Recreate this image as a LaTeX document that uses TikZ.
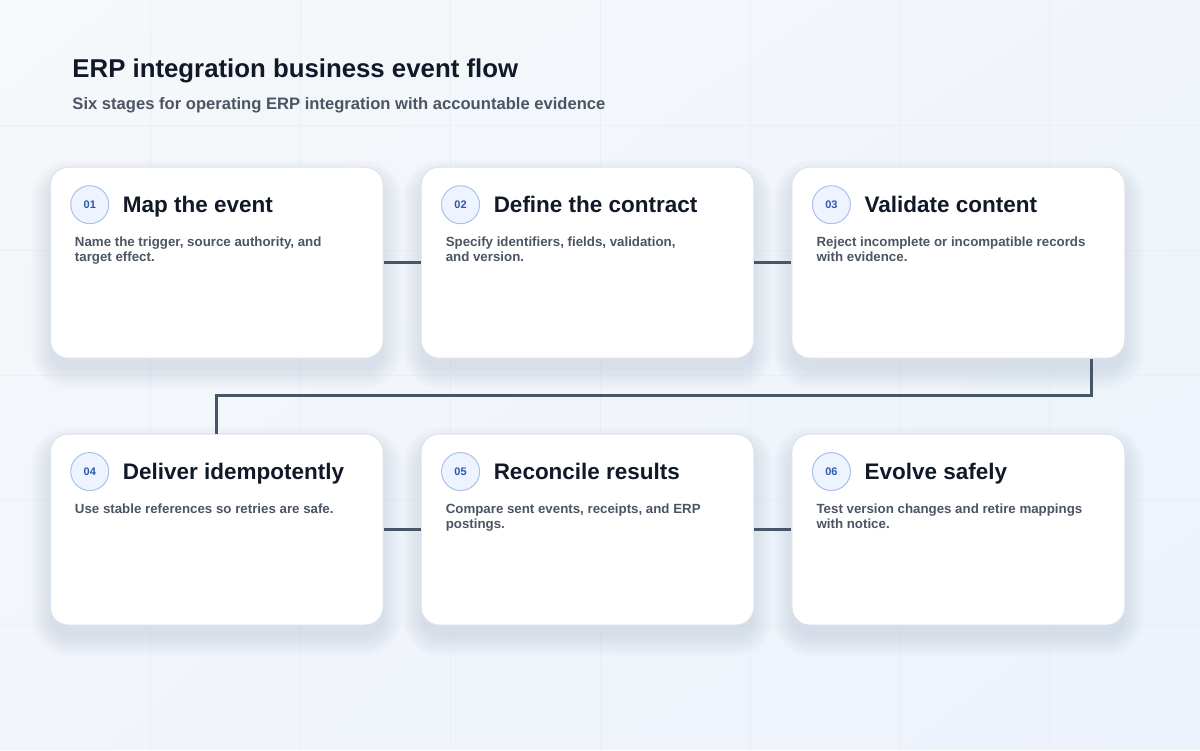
\documentclass[tikz,border=0pt]{standalone}
\usepackage{fontspec}
\setmainfont{Liberation Sans}
\usetikzlibrary{calc,shadings}
\pgfdeclarelayer{bglayer}
\pgfdeclarelayer{shadowlayer}
\pgfsetlayers{bglayer,shadowlayer,main}
\definecolor{bgul}{HTML}{F6F8FA}
\definecolor{bgur}{HTML}{F1F5FB}
\definecolor{bgll}{HTML}{F2F5FB}
\definecolor{bglr}{HTML}{ECF2FC}
\definecolor{gridc}{HTML}{E8EDF4}
\definecolor{titlec}{HTML}{111827}
\definecolor{subc}{HTML}{4B5563}
\definecolor{descc}{HTML}{4B5563}
\definecolor{borderc}{HTML}{DCE3EC}
\definecolor{circfill}{HTML}{EEF4FF}
\definecolor{circdraw}{HTML}{A9C1EA}
\definecolor{numc}{HTML}{2F58A8}
\definecolor{linkc}{HTML}{475569}
\definecolor{shadc}{HTML}{8393B0}
\tikzset{
  card/.style={draw=borderc, line width=1pt, fill=white, rounded corners=18pt,
    minimum width=333pt, minimum height=191pt, inner sep=0pt},
  numcirc/.style={circle, draw=circdraw, line width=1pt, fill=circfill, minimum size=38pt, inner sep=0pt,
    font=\fontsize{11}{13}\selectfont\bfseries, text=numc},
  cardtitle/.style={anchor=base west, inner sep=0pt, font=\fontsize{22.5}{27}\selectfont\bfseries, text=titlec},
  carddesc/.style={anchor=base west, inner sep=0pt, font=\fontsize{13.3}{15}\selectfont\bfseries, text=descc},
  link/.style={draw=linkc, line width=3.5pt},
}
\newcommand{\desclines}[1]{\begin{tabular}[t]{@{}l@{}}#1\end{tabular}}
\begin{document}
\begin{tikzpicture}[x=1pt,y=-1pt]
\begin{pgfonlayer}{bglayer}
\shade[upper left=bgul, upper right=bgur, lower left=bgll, lower right=bglr] (0,0) rectangle (1200,750);
\foreach \gx in {150,300,...,1050} \draw[gridc, line width=0.6pt, opacity=0.7] (\gx,0) -- (\gx,750);
\foreach \gy in {125,250,...,625} \draw[gridc, line width=0.6pt, opacity=0.7] (0,\gy) -- (1200,\gy);
\end{pgfonlayer}
\useasboundingbox (0,0) rectangle (1200,750);
\node[anchor=base west, inner sep=0pt, font=\fontsize{25.8}{30}\selectfont\bfseries, text=titlec] (title) at (72,77) {ERP integration business event flow};
\node[anchor=base west, inner sep=0pt, font=\fontsize{16.6}{19}\selectfont\bfseries, text=subc] (sub) at (72,109) {Six stages for operating ERP integration with accountable evidence};
% cards
\node[card] (c1) at (216.5,262.5) {};
\node[card] (c2) at (587.5,262.5) {};
\node[card] (c3) at (958.5,262.5) {};
\node[card] (c4) at (216.5,529.5) {};
\node[card] (c5) at (587.5,529.5) {};
\node[card] (c6) at (958.5,529.5) {};
% soft shadows
\begin{pgfonlayer}{shadowlayer}
\foreach \c in {c1,c2,c3,c4,c5,c6} {
  \foreach \s in {2,5,8,11,14,17,20} {
    \fill[shadc, opacity=0.03, rounded corners=18pt+\s pt]
      ($(\c.north west)+(-\s+2,-\s+14)$) rectangle ($(\c.south east)+(\s-2,\s+10)$);
  }
}
\end{pgfonlayer}
% connectors
\draw[link] (c1.east) -- (c2.west);
\draw[link] (c2.east) -- (c3.west);
\draw[link] (c4.east) -- (c5.west);
\draw[link] (c5.east) -- (c6.west);
\coordinate (t3) at ([xshift=-34pt]c3.south east);
\draw[link] (t3) -- ++(0,37) -| (c4.north);
% card contents
\foreach \c/\n/\t/\d in {
  c1/01/Map the event/{Name the trigger, source authority, and\\target effect.},
  c2/02/Define the contract/{Specify identifiers, fields, validation,\\and version.},
  c3/03/Validate content/{Reject incomplete or incompatible records\\with evidence.},
  c4/04/Deliver idempotently/{Use stable references so retries are safe.},
  c5/05/Reconcile results/{Compare sent events, receipts, and ERP\\postings.},
  c6/06/Evolve safely/{Test version changes and retire mappings\\with notice.}} {
  \node[numcirc] (\c n) at ($(\c.north west)+(40,38)$) {\n};
  \node[cardtitle] (\c t) at ($(\c.north west)+(73,46)$) {\t};
  \node[carddesc] (\c d) at ($(\c.north west)+(25,80)$) {\desclines{\d}};
}
\end{tikzpicture}
\end{document}
